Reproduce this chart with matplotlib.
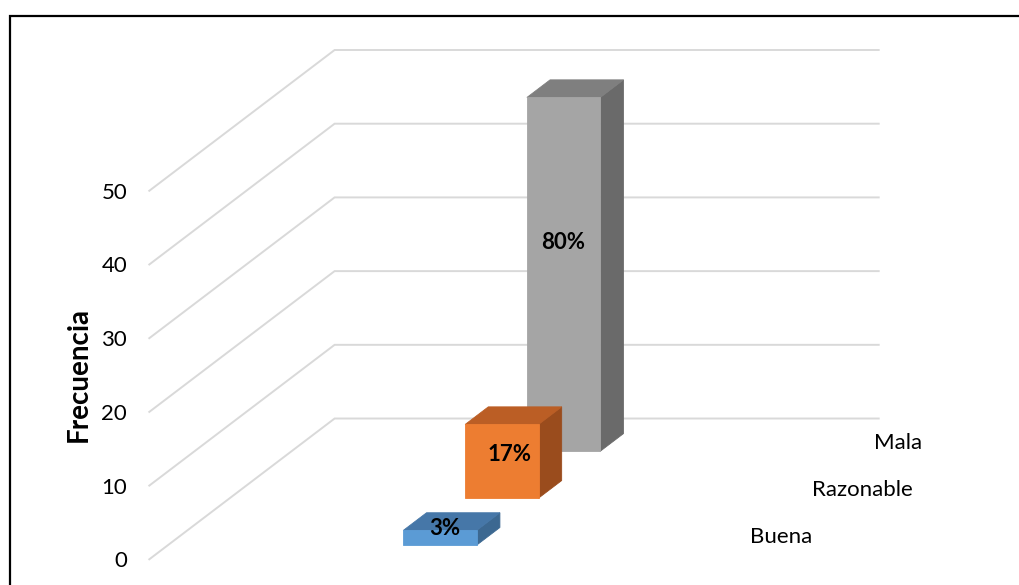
import numpy as np
import matplotlib.pyplot as plt
from matplotlib.patches import Polygon, Rectangle

plt.rcParams['font.family'] = ['Lato', 'DejaVu Sans']

# datos
categorias = ['Buena', 'Razonable', 'Mala']
frecuencia = [2, 10, 48]
ticks_y = [0, 10, 20, 30, 40, 50]

colores_frente = ['#5B9BD5', '#ED7D31', '#A5A5A5']
colores_arriba = ['#4677A8', '#BB5E25', '#7F7F7F']
colores_lado = ['#3C6891', '#9A4C1D', '#6A6A6A']

total = sum(frecuencia)
porcentajes = [round(100 * f / total) for f in frecuencia]

# proyeccion oblicua (x, valor, profundidad) -> coordenadas de los ejes
ANCHO = 544.4     # ancho de la pared frontal
DX = 185.4        # desplazamiento horizontal del fondo
DV = 19.1         # desplazamiento vertical del fondo (en unidades de frecuencia)
VMAX = 50


def proy(x, v, d):
    return (x + DX * d, v + DV * d)


fig = plt.figure(figsize=(10.19, 5.85), dpi=100)
ax = fig.add_axes([149.3 / 1019, (585 - 559.3) / 585, 729.4 / 1019, 509.3 / 585])
ax.set_xlim(0, ANCHO + DX)
ax.set_ylim(0, VMAX + DV)
for s in ax.spines.values():
    s.set_visible(False)
ax.set_xticks([])
ax.set_yticks(ticks_y)
ax.tick_params(axis='y', length=0, pad=16, labelsize=16, labelcolor='#000000')

# paredes: lineas laterales y del fondo
for v in ticks_y:
    p0 = proy(0, v, 0)
    p1 = proy(0, v, 1)
    p2 = proy(ANCHO, v, 1)
    ax.plot([p0[0], p1[0], p2[0]], [p0[1], p1[1], p2[1]], color='#D9D9D9',
            lw=1.4, zorder=1, clip_on=False, solid_joinstyle='miter')

# barras 3D, de atras hacia adelante
ancho_barra = 73.4
prof_barra = 0.125
xc = ANCHO / 2
frac_etiqueta = [1.14, 0.59, 0.59]
dx_etiqueta = [5, 8, 0]

for i in reversed(range(len(categorias))):
    v = frecuencia[i]
    d0 = (i + 0.303) / 3
    d1 = d0 + prof_barra
    x0 = xc - ancho_barra / 2
    x1 = xc + ancho_barra / 2
    frente = [proy(x0, 0, d0), proy(x1, 0, d0), proy(x1, v, d0), proy(x0, v, d0)]
    arriba = [proy(x0, v, d0), proy(x1, v, d0), proy(x1, v, d1), proy(x0, v, d1)]
    lado = [proy(x1, 0, d0), proy(x1, 0, d1), proy(x1, v, d1), proy(x1, v, d0)]
    z = 3 + 3 * (2 - i)
    for cara, col, k in [(lado, colores_lado[i], 0), (arriba, colores_arriba[i], 1), (frente, colores_frente[i], 2)]:
        ax.add_patch(Polygon(cara, closed=True, facecolor=col, edgecolor=col,
                             lw=0.6, zorder=z + k * 0.1))
    ex, ey = proy(xc + dx_etiqueta[i], v * frac_etiqueta[i], d0)
    ax.text(ex, ey, f'{porcentajes[i]}%', ha='center', va='center', fontsize=16,
            fontweight='bold', color='#000000', zorder=z + 1)

    # etiqueta de la categoria en el eje de profundidad
    cx, cy = proy(ANCHO, 0, (i + 0.5) / 3)
    ax.text(cx + 26, cy - 0.15, categorias[i], ha='left', va='center', fontsize=16,
            color='#000000')

fig.text(78.3 / 1019, 1 - 374 / 585, 'Frecuencia', rotation=90, ha='center',
         va='center', fontsize=20, fontweight='bold')

# marco del grafico
fig.patches.append(Rectangle((10 / 1019, -0.1), 1.1, 1 - 16 / 585 + 0.1,
                             transform=fig.transFigure, fill=False,
                             edgecolor='#000000', lw=1.6))

fig.savefig('out.png', dpi=100)
